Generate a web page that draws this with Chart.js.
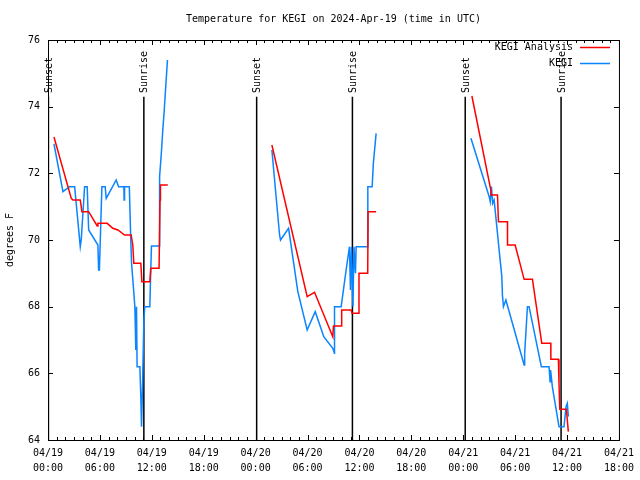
<!DOCTYPE html>
<html>
<head>
<meta charset="utf-8">
<script src="https://cdn.jsdelivr.net/npm/chart.js@4.4.1/dist/chart.umd.min.js"></script>
<style>
  html, body { margin: 0; padding: 0; background: #fff; }
  canvas { display: block; }
</style>
</head>
<body>
<canvas id="tempChart" width="640" height="480"></canvas>
<script>
// hours since 04/19 00:00 UTC; null = no data
const analysisHours = [0.69, 2.69, 2.88, 3.73, 3.92, 4.70, 5.69, 5.77, 6.84, 7.50, 8.08, 8.85, 9.61, 9.80, 9.92, 10.73, 10.85, 11.77, 11.88, 12.84, 12.95, 13.0, 13.85,
  19,
  25.88, 29.96, 30.81, 32.92, 33.0, 33.89, 33.95, 35.04, 35.15, 35.92, 35.95, 36.96, 37.0, 37.93,
  43,
  49.0, 51.19, 51.2, 51.96, 52.07, 53.11, 53.12, 54.0, 55.04, 56.0, 57.08, 58.12, 58.13, 59.0, 59.07, 59.16, 59.92, 60.15];
const analysisTemps = [73.09, 71.25, 71.2, 71.2, 70.85, 70.85, 70.42, 70.5, 70.5, 70.35, 70.3, 70.15, 70.15, 69.85, 69.3, 69.3, 68.75, 68.75, 69.15, 69.15, 71.2, 71.65, 71.65,
  null,
  72.85, 68.3, 68.43, 67.1, 67.42, 67.42, 67.9, 67.9, 67.8, 67.8, 69.0, 69.0, 70.85, 70.85,
  null,
  74.32, 71.5, 71.35, 71.35, 70.55, 70.55, 69.85, 69.85, 68.82, 68.82, 66.9, 66.9, 66.42, 66.42, 65.7, 64.92, 64.92, 64.25];

const obsHours = [0.69, 1.73, 2.50, 3.08, 3.73, 3.84, 4.23, 4.53, 4.70, 5.77, 5.85, 5.94, 6.23, 6.61, 6.73, 7.88, 8.16, 8.77, 8.80, 8.85, 9.40, 9.58, 9.66, 9.84, 10.04, 10.15, 10.23, 10.30, 10.62, 10.73, 10.81, 10.96, 11.08, 11.19, 11.77, 11.88, 11.96, 12.84, 12.88, 12.92, 13.10, 13.27, 13.44, 13.61, 13.81,
  19,
  25.88, 26.77, 26.88, 27.81, 28.88, 29.96, 30.89, 31.88, 32.92, 33.11, 33.12, 33.89, 34.46, 34.85, 34.96, 35.08, 35.25, 35.37, 35.54, 35.62, 36.96, 36.97, 37.47, 37.61, 37.93,
  43,
  48.89, 51.0, 51.12, 51.26, 51.4, 51.57, 52.46, 52.53, 52.65, 52.93, 55.04, 55.1, 55.42, 55.61, 57.03, 57.92, 58.04, 58.1, 58.3, 59.07, 59.65, 59.88, 60.03, 60.15];
const obsTemps = [72.88, 71.45, 71.6, 71.6, 69.8, 70.0, 71.6, 71.6, 70.3, 69.85, 69.1, 69.1, 71.6, 71.6, 71.25, 71.8, 71.6, 71.6, 71.2, 71.6, 71.6, 69.9, 69.3, 68.7, 68.0, 66.7, 68.0, 66.2, 66.2, 65.3, 64.4, 66.0, 67.6, 68.0, 68.0, 69.1, 69.82, 69.82, 71.62, 71.9, 72.6, 73.3, 73.9, 74.6, 75.4,
  null,
  72.7, 70.15, 70.0, 70.35, 68.45, 67.3, 67.85, 67.1, 66.75, 66.6, 68.0, 68.0, 69.1, 69.8, 68.5, 69.8, 68.0, 69.8, 69.0, 69.8, 69.8, 71.6, 71.6, 72.3, 73.2,
  null,
  73.05, 71.3, 71.15, 71.6, 71.1, 71.2, 68.9, 68.35, 68.0, 68.2, 66.25, 66.6, 68.0, 68.0, 66.2, 66.2, 65.75, 66.1, 65.6, 64.4, 64.4, 65.0, 65.1, 64.7];

const sunHours = [0.05, 11.08, 24.12, 35.19, 48.23, 59.31];
const sunEvents = ["Sunset", "Sunrise", "Sunset", "Sunrise", "Sunset", "Sunrise"];
const sunLineTop = 74.3;

const xMin = 0, xMax = 66, xStep = 6;
const yMin = 64, yMax = 76, yStep = 2;

const FONT = "DejaVu Sans Mono";

function pts(xs, ys) {
  return xs.map((x, i) => ({ x: x, y: ys[i] }));
}

const datasets = [
  { label: "KEGI Analysis", data: pts(analysisHours, analysisTemps), borderColor: "#ff0000" },
  { label: "KEGI", data: pts(obsHours, obsTemps), borderColor: "#0a84ff" }
];
sunHours.forEach((h, i) => {
  datasets.push({
    label: sunEvents[i],
    sun: true,
    data: [{ x: h, y: yMin }, { x: h, y: sunLineTop }],
    borderColor: "#000"
  });
});

// title, box, inward ticks, sun labels and key, gnuplot style
const gnuplotDecor = {
  id: "gnuplotDecor",
  afterDraw(chart) {
    const ctx = chart.ctx;
    const a = chart.chartArea;
    const xs = chart.scales.x, ys = chart.scales.y;
    ctx.save();
    ctx.strokeStyle = "#000";
    ctx.lineWidth = 1;
    ctx.strokeRect(a.left + 0.5, a.top + 0.5, a.right - a.left, a.bottom - a.top);

    ctx.beginPath();
    for (let h = xMin; h <= xMax; h += 1) {
      const px = Math.round(xs.getPixelForValue(h)) + 0.5;
      const len = h % xStep === 0 ? 5 : 3;
      ctx.moveTo(px, a.bottom); ctx.lineTo(px, a.bottom - len);
      ctx.moveTo(px, a.top); ctx.lineTo(px, a.top + len);
    }
    for (let v = yMin; v <= yMax; v += yStep) {
      const py = Math.round(ys.getPixelForValue(v)) + 0.5;
      ctx.moveTo(a.left, py); ctx.lineTo(a.left + 5, py);
      ctx.moveTo(a.right, py); ctx.lineTo(a.right - 5, py);
    }
    ctx.stroke();

    ctx.fillStyle = "#000";
    ctx.font = "10px '" + FONT + "'";
    ctx.textAlign = "center";
    ctx.textBaseline = "middle";
    ctx.fillText("Temperature for KEGI on 2024-Apr-19 (time in UTC)", (a.left + a.right) / 2, 19);

    // sun event labels
    sunHours.forEach((h, i) => {
      const px = xs.getPixelForValue(h);
      ctx.save();
      ctx.translate(px + 1, a.top + 53);
      ctx.rotate(-Math.PI / 2);
      ctx.textAlign = "left";
      ctx.fillText(sunEvents[i], 0, 0);
      ctx.restore();
    });

    // key
    chart.data.datasets.filter(d => !d.sun).forEach((d, i) => {
      const y = 47 + i * 16;
      ctx.textAlign = "right";
      ctx.fillStyle = "#000";
      ctx.fillText(d.label, 573, y);
      ctx.strokeStyle = d.borderColor;
      ctx.lineWidth = 1.5;
      ctx.beginPath();
      ctx.moveTo(580, y + 0.5); ctx.lineTo(610, y + 0.5);
      ctx.stroke();
    });
    ctx.restore();
  }
};

new Chart(document.getElementById("tempChart").getContext("2d"), {
  type: "line",
  data: { datasets: datasets },
  options: {
    responsive: false,
    animation: false,
    spanGaps: false,
    layout: { padding: { top: 40, right: 20, left: 0, bottom: 0 } },
    elements: {
      line: { borderWidth: 1.5, tension: 0, fill: false },
      point: { radius: 0, hoverRadius: 0 }
    },
    plugins: {
      legend: { display: false },
      title: { display: false },
      tooltip: { enabled: false }
    },
    scales: {
      x: {
        type: "linear",
        min: xMin, max: xMax,
        offset: false,
        grid: { display: false, drawTicks: false },
        border: { display: false },
        afterFit(scale) { scale.height = 40; },
        ticks: {
          stepSize: xStep,
          autoSkip: false,
          maxRotation: 0,
          padding: 6,
          color: "#000",
          font: { family: FONT, size: 10, lineHeight: 1.5 },
          callback(v) {
            const day = 19 + Math.floor(v / 24);
            const hr = v % 24;
            return ["04/" + day, (hr < 10 ? "0" : "") + hr + ":00"];
          }
        }
      },
      y: {
        min: yMin, max: yMax,
        grid: { display: false, drawTicks: false },
        border: { display: false },
        afterFit(scale) { scale.width = 48; },
        title: {
          display: true,
          text: "degrees F",
          color: "#000",
          padding: { top: 4, bottom: 0 },
          font: { family: FONT, size: 10 }
        },
        ticks: {
          stepSize: yStep,
          padding: 8,
          color: "#000",
          font: { family: FONT, size: 10 }
        }
      }
    }
  },
  plugins: [gnuplotDecor]
});
</script>
</body>
</html>
